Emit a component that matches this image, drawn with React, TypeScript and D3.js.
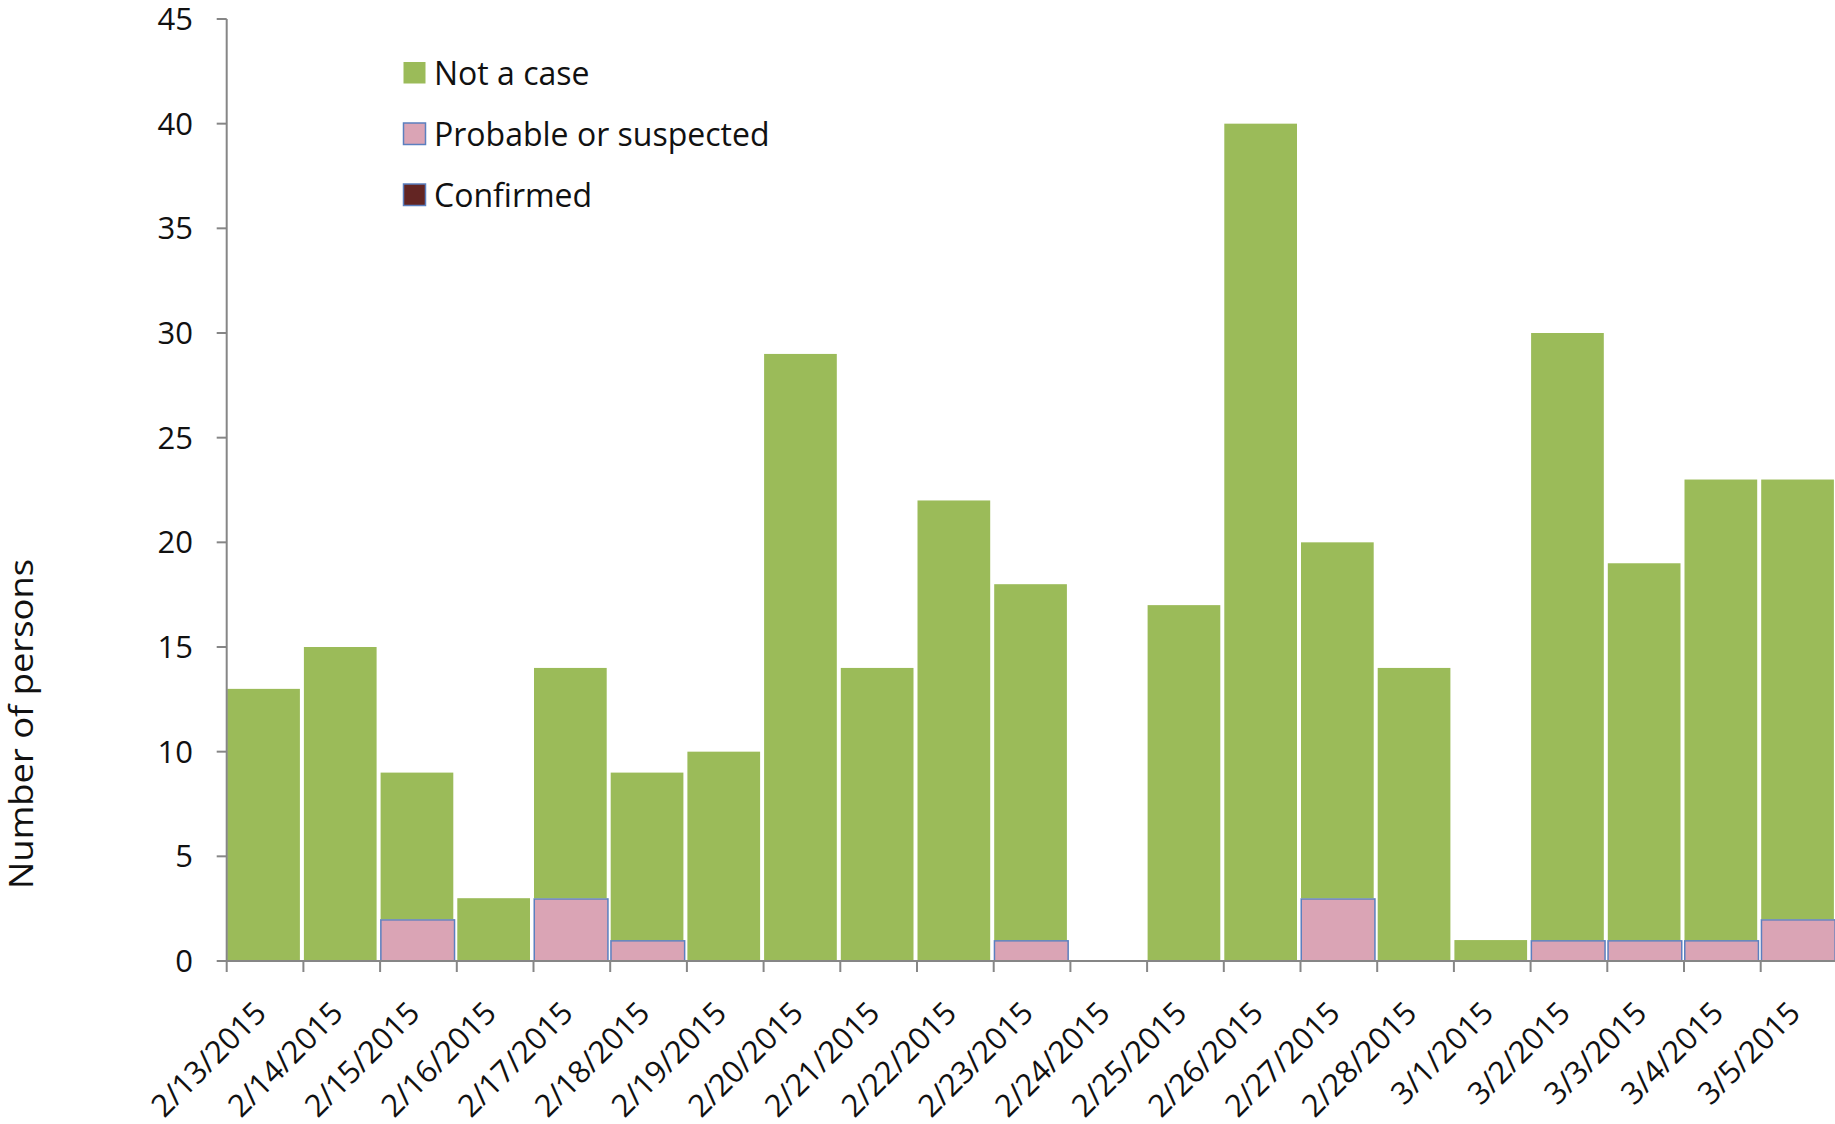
import React from "react";
import * as d3 from "d3";

const dates = [
  "2/13/2015", "2/14/2015", "2/15/2015", "2/16/2015", "2/17/2015", "2/18/2015", "2/19/2015",
  "2/20/2015", "2/21/2015", "2/22/2015", "2/23/2015", "2/24/2015", "2/25/2015", "2/26/2015",
  "2/27/2015", "2/28/2015", "3/1/2015", "3/2/2015", "3/3/2015", "3/4/2015", "3/5/2015",
];
const confirmed = [0, 0, 0, 0, 0, 0, 0, 0, 0, 0, 0, 0, 0, 0, 0, 0, 0, 0, 0, 0, 0];
const probable = [0, 0, 2, 0, 3, 1, 0, 0, 0, 0, 1, 0, 0, 0, 3, 0, 0, 1, 1, 1, 2];
const notACase = [13, 15, 7, 3, 11, 8, 10, 29, 14, 22, 17, 0, 17, 40, 17, 14, 1, 29, 18, 22, 21];
const yTicks = [0, 5, 10, 15, 20, 25, 30, 35, 40, 45];

const seriesNames = ["Not a case", "Probable or suspected", "Confirmed"];
const colors: Record<string, string> = {
  "Not a case": "#9BBB59",
  "Probable or suspected": "#DAA4B5",
  Confirmed: "#632523",
};

const FONT = "'Open Sans', Lato, sans-serif";

export default function App() {
  const W = 1835;
  const H = 1124;
  const x0 = 226.7;
  const band = 76.7;
  const x = d3
    .scaleBand<string>()
    .domain(dates)
    .range([x0, x0 + band * dates.length])
    .paddingInner(0)
    .paddingOuter(0);
  const y = d3.scaleLinear().domain([0, 45]).range([961, 19]);

  const rows = dates.map((d, i) => ({
    date: d,
    Confirmed: confirmed[i],
    "Probable or suspected": probable[i],
    "Not a case": notACase[i],
  }));
  const stack = d3.stack<any>().keys(["Confirmed", "Probable or suspected", "Not a case"]);
  const layers = stack(rows);

  const axisColor = "#868686";

  return (
    <div style={{ position: "absolute", left: 0, top: 0 }}>
      <svg width={W} height={H} style={{ display: "block", background: "#fff" }}>
        {/* bars */}
        {layers.map((layer) => (
          <g key={layer.key}>
            {layer.map((seg, i) => {
              const h = y(seg[0]) - y(seg[1]);
              if (h <= 0) return null;
              const bx = x(dates[i])!;
              const isGreen = layer.key === "Not a case";
              return (
                <rect
                  key={i}
                  x={isGreen ? bx + 0.5 : bx + 0.75}
                  y={y(seg[1]) + (isGreen ? 0 : 0.75)}
                  width={isGreen ? x.bandwidth() - 4 : x.bandwidth() - 3}
                  height={isGreen ? h : h - 0.75}
                  fill={colors[layer.key]}
                  stroke={isGreen ? "none" : "#5B7FBF"}
                  strokeWidth={isGreen ? 0 : 1.5}
                />
              );
            })}
          </g>
        ))}

        {/* y axis */}
        <line x1={x0} x2={x0} y1={y(45)} y2={y(0)} stroke={axisColor} strokeWidth={2} />
        {yTicks.map((t) => (
          <g key={t}>
            <line x1={x0 - 10} x2={x0} y1={y(t)} y2={y(t)} stroke={axisColor} strokeWidth={2} />
            <text
              x={193}
              y={y(t)}
              dy="0.36em"
              textAnchor="end"
              fontFamily={FONT}
              fontSize={31}
              fill="#111"
            >
              {t}
            </text>
          </g>
        ))}

        {/* x axis */}
        <line x1={x0} x2={x0 + band * dates.length} y1={y(0)} y2={y(0)} stroke={axisColor} strokeWidth={2} />
        {dates.map((d) => (
          <line
            key={d}
            x1={x(d)!}
            x2={x(d)!}
            y1={y(0)}
            y2={y(0) + 11}
            stroke={axisColor}
            strokeWidth={2}
          />
        ))}
        {dates.map((d) => {
          const cx = x(d)! + x.bandwidth() / 2 + 3;
          const cy = 1015;
          return (
            <text
              key={d}
              x={cx}
              y={cy}
              transform={`rotate(-45, ${cx}, ${cy})`}
              textAnchor="end"
              fontFamily={FONT}
              fontSize={31}
              fill="#111"
            >
              {d}
            </text>
          );
        })}

        {/* y title */}
        <text
          transform={`translate(33, 724) rotate(-90)`}
          textAnchor="middle"
          fontFamily={FONT}
          fontSize={33}
          textLength={330}
          lengthAdjust="spacingAndGlyphs"
          fill="#111"
        >
          Number of persons
        </text>

        {/* legend */}
        {seriesNames.map((s, i) => {
          const ly = 62 + i * 61;
          return (
            <g key={s}>
              <rect
                x={403.5}
                y={ly}
                width={22}
                height={21.5}
                fill={colors[s]}
                stroke={s === "Not a case" ? "none" : "#5B7FBF"}
                strokeWidth={1.5}
              />
              <text x={434} y={ly + 23} fontFamily={FONT} fontSize={32} fill="#111">
                {s}
              </text>
            </g>
          );
        })}
      </svg>
    </div>
  );
}
